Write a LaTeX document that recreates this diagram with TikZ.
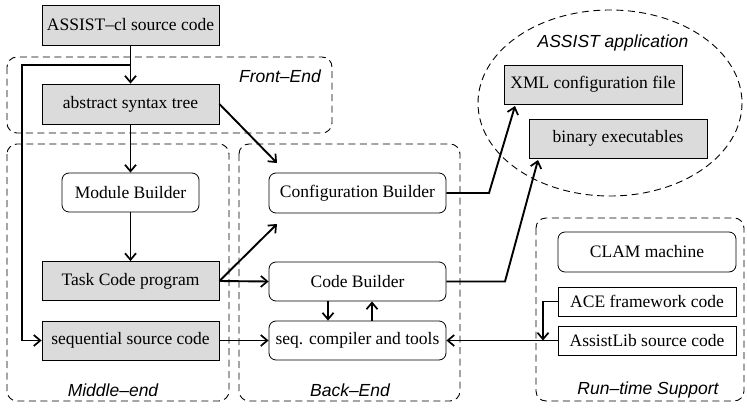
\documentclass[tikz,border=0pt]{standalone}
\usepackage{fontspec}
\setmainfont{Liberation Serif}
\setsansfont{Liberation Sans}
\usetikzlibrary{arrows.meta,shapes.geometric}
\begin{document}
\begin{tikzpicture}[x=1pt,y=-1pt,
  every node/.style={font=\fontsize{17.5}{20}\selectfont, inner sep=0pt},
  greybox/.style={draw, line width=0.8pt, fill=gray!28, rectangle},
  roundbox/.style={draw, line width=0.8pt, fill=white, rounded corners=7pt},
  plainbox/.style={draw, line width=0.8pt, fill=white, rectangle},
  dashline/.style={draw, line width=0.9pt, dash pattern=on 7pt off 4.5pt},
  region/.style={dashline, rounded corners=10pt},
  regionlabel/.style={font=\sffamily\itshape\fontsize{17.5}{20}\selectfont},
  arr/.style={line width=1.9pt, -{Straight Barb[length=6.5pt,width=11pt,line width=1.7pt]}}]
\useasboundingbox (0,0) rectangle (747,407);

% dashed regions
\draw[region] (7,57) rectangle (332,133);
\draw[region] (7,144) rectangle (229,401);
\draw[region] (239,144) rectangle (460,401);
\draw[region] (536,218) rectangle (744,401);
\draw[dashline] (610,103) ellipse [x radius=132, y radius=93];

\node[regionlabel] (lfront) at (280,76) {Front--End};
\node[regionlabel] (lmid) at (113,390) {Middle--end};
\node[regionlabel] (lback) at (350,390) {Back--End};
\node[regionlabel] (lrun) at (648,390) {Run--time Support};
\node[regionlabel] (lapp) at (613,43) {ASSIST application};

% front and middle end
\node[greybox, minimum width=177, minimum height=40] (src) at (130.5,25) {ASSIST--cl source code};
\node[greybox, minimum width=177, minimum height=40] (ast) at (130.5,104) {abstract syntax tree};
\node[roundbox, minimum width=137, minimum height=39] (mod) at (130.5,192.5) {Module Builder};
\node[greybox, minimum width=177, minimum height=39] (task) at (130.5,281) {Task Code program};
\node[greybox, minimum width=177, minimum height=39] (seqsrc) at (130.5,340.5) {sequential source code};

% back end
\node[roundbox, minimum width=177, minimum height=40] (cfg) at (357.5,193) {Configuration Builder};
\node[roundbox, minimum width=177, minimum height=39] (code) at (357.5,281.5) {Code Builder};
\node[roundbox, minimum width=177, minimum height=39] (seqc) at (357.5,340.5) {seq. compiler and tools};

% application
\node[greybox, minimum width=178, minimum height=39] (xml) at (593,84.5) {XML configuration file};
\node[greybox, minimum width=178, minimum height=39] (bin) at (618,138.5) {binary executables};

% run-time support
\node[roundbox, minimum width=178, minimum height=40] (clam) at (647,252) {CLAM machine};
\node[plainbox, minimum width=178, minimum height=29] (ace) at (647,301.5) {ACE framework code};
\node[plainbox, minimum width=178, minimum height=29] (alib) at (647,340.5) {AssistLib source code};

% connector waypoints
\coordinate (split) at (130.5,65);
\coordinate (fbtop) at (22,65);
\coordinate (fbbot) at (22,340.5);
\coordinate (cfgin1) at (277,163);
\coordinate (cfgin2) at (277,224);
\coordinate (bendA) at (489,193);
\coordinate (xmlin) at (515,106);
\coordinate (bendB) at (505,281.5);
\coordinate (binin) at (538,160);
\coordinate (aceturn) at (543,301.5);
\coordinate (acedrop) at (543,340.5);

% connectors
\draw[arr] (src.south) -- (ast.north);
\draw[arr] (split) -- (fbtop) -- (fbbot) -- (seqsrc.west);
\draw[arr] (ast.south) -- (mod.north);
\draw[arr] (ast.east) -- (cfgin1);
\draw[arr] (mod.south) -- (task.north);
\draw[arr] (task.east) -- (cfgin2);
\draw[arr] (task.east) -- (code.west);
\draw[arr] (seqsrc.east) -- (seqc.west);
\draw[arr] ([xshift=-29.5]code.south) -- ([xshift=-29.5]seqc.north);
\draw[arr] ([xshift=14.5]seqc.north) -- ([xshift=14.5]code.south);
\draw[arr] (cfg.east) -- (bendA) -- (xmlin);
\draw[arr] (code.east) -- (bendB) -- (binin);
\draw[arr] (ace.west) -- (aceturn) -- (acedrop);
\draw[arr] (alib.west) -- (seqc.east);
\end{tikzpicture}
\end{document}
